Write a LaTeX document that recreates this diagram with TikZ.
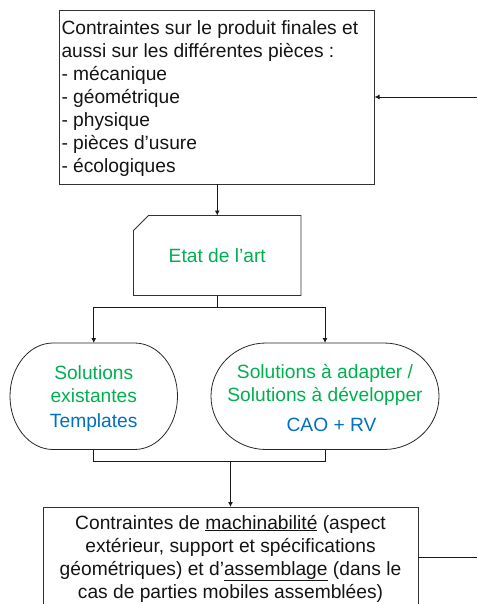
\documentclass[tikz,border=0pt]{standalone}
\usepackage{fontspec}
\setmainfont{Liberation Sans}
\usetikzlibrary{arrows.meta}
\definecolor{grn}{RGB}{0,176,80}
\definecolor{blu}{RGB}{0,112,192}
\definecolor{edge}{RGB}{50,50,50}
\tikzset{
  every node/.style={font=\fontsize{19.2}{23}\selectfont,text=black!92,inner sep=0pt,outer sep=0pt},
  box/.style={draw=edge,line width=0.9pt,minimum width=#1,anchor=north west},
  ghost/.style={minimum width=#1,minimum height=106.5pt},
  line/.style={draw=black!90,line width=0.9pt},
  link/.style={line,-{Latex[length=5pt,width=5pt]}}
}
\begin{document}
\begin{tikzpicture}[x=1pt,y=-1pt]
\useasboundingbox (0,0) rectangle (477,604);
\clip (0,0) rectangle (477,604);
% top box
\node[box=315pt,minimum height=174pt] (top) at (59.5,10) {};
\node[anchor=north west,align=left] (toptext) at (61.5,21) {Contraintes sur le produit finales et\\aussi sur les différentes pièces :\\- mécanique\\- géométrique\\- physique\\- pièces d’usure\\- écologiques};
\coordinate (in) at (477,97);
\draw[link] (in) -- (top.east |- in);
% state of the art
\node[minimum width=167.5pt,minimum height=80pt] (art) at (217.25,255.5) {};
\draw[draw=edge,line width=0.9pt] ([yshift=-15pt]art.north west) -- ([xshift=15pt]art.north west) -- (art.north east) -- (art.south east) -- (art.south west) -- cycle;
\node[text=grn] (arttext) at (217.25,255.5) {Etat de l’art};
\draw[link] (top.south -| art.north) -- (art.north);
% solutions
\node[ghost=167.5pt] (sa) at (93.75,396.25) {};
\node[ghost=228pt] (sb) at (325,396.25) {};
\draw[draw=black!85,line width=0.8pt] (sa.west) arc[start angle=180,end angle=270,x radius=43pt,y radius=-53.25pt] -- ([xshift=-43pt]sa.north east) arc[start angle=270,end angle=360,x radius=43pt,y radius=-53.25pt] arc[start angle=0,end angle=90,x radius=43pt,y radius=-53.25pt] -- ([xshift=43pt]sa.south west) arc[start angle=90,end angle=180,x radius=43pt,y radius=-53.25pt];
\draw[draw=black!85,line width=0.8pt] (sb.west) arc[start angle=180,end angle=270,x radius=55pt,y radius=-53.25pt] -- ([xshift=-55pt]sb.north east) arc[start angle=270,end angle=360,x radius=55pt,y radius=-53.25pt] arc[start angle=0,end angle=90,x radius=55pt,y radius=-53.25pt] -- ([xshift=55pt]sb.south west) arc[start angle=90,end angle=180,x radius=55pt,y radius=-53.25pt];
\node[text=grn,align=center] (satext) at (93.75,384.5) {Solutions\\existantes};
\node[text=blu] (satpl) at (93.75,423) {Templates};
\node[text=grn,align=center] (sbtext) at (325,384.5) {Solutions à adapter /\\Solutions à développer};
\node[text=blu] (sbcao) at (331.5,425) {CAO + RV};
% fork
\coordinate (fork) at (217.25,307.5);
\draw[line] (art.south) -- (fork);
\draw[link] (fork) -| (sa.north);
\draw[link] (fork) -| (sb.north);
% bottom box
\node[box=375pt,minimum height=130pt] (bot) at (43,507) {};
\node[align=center] (bottext) at (230.5,558.5) {Contraintes de \underline{machinabilité} (aspect\\extérieur, support et spécifications\\géométriques) et d’\underline{assemblage} (dans le\\cas de parties mobiles assemblées)};
\coordinate (merge) at (230.5,461.5);
\draw[line] (sa.south) |- (merge);
\draw[line] (sb.south) |- (merge);
\draw[link] (merge) -- (bot.north -| merge);
\coordinate (out) at (477,557);
\draw[line] (bot.east |- out) -- (out);
\end{tikzpicture}
\end{document}
